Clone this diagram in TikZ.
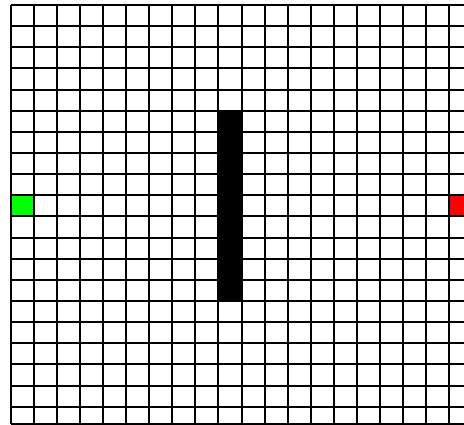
\documentclass[tikz,border=0pt]{standalone}
\usepackage{xcolor}
\usepackage{tikz}

\begin{document}
\begin{tikzpicture}[x=1pt,y=-1pt,
  gridline/.style={draw=black,line width=2pt},
  startcell/.style={fill=green},
  goalcell/.style={fill=red},
  wallcell/.style={fill=black}]
  \useasboundingbox (0,0) rectangle (464,425);
  \clip (0,0) rectangle (464,425);
  \def\cw{23.05}
  \def\ch{21.14}
  % start, goal and wall
  \fill[startcell] (11,{5+9*\ch}) rectangle ++(\cw,\ch);
  \fill[goalcell] ({11+19*\cw},{5+9*\ch}) rectangle ++(\cw,\ch);
  \fill[wallcell] ({11+9*\cw},{5+5*\ch}) rectangle ({11+10*\cw},{5+14*\ch});
  % grid
  \foreach \i in {0,...,20}
    \draw[gridline] ({11+\i*\cw},5) -- ({11+\i*\cw},424);
  \foreach \j in {0,...,19}
    \draw[gridline] (11,{5+\j*\ch}) -- (464,{5+\j*\ch});
  \draw[gridline] (11,424) -- (464,424);
\end{tikzpicture}
\end{document}
